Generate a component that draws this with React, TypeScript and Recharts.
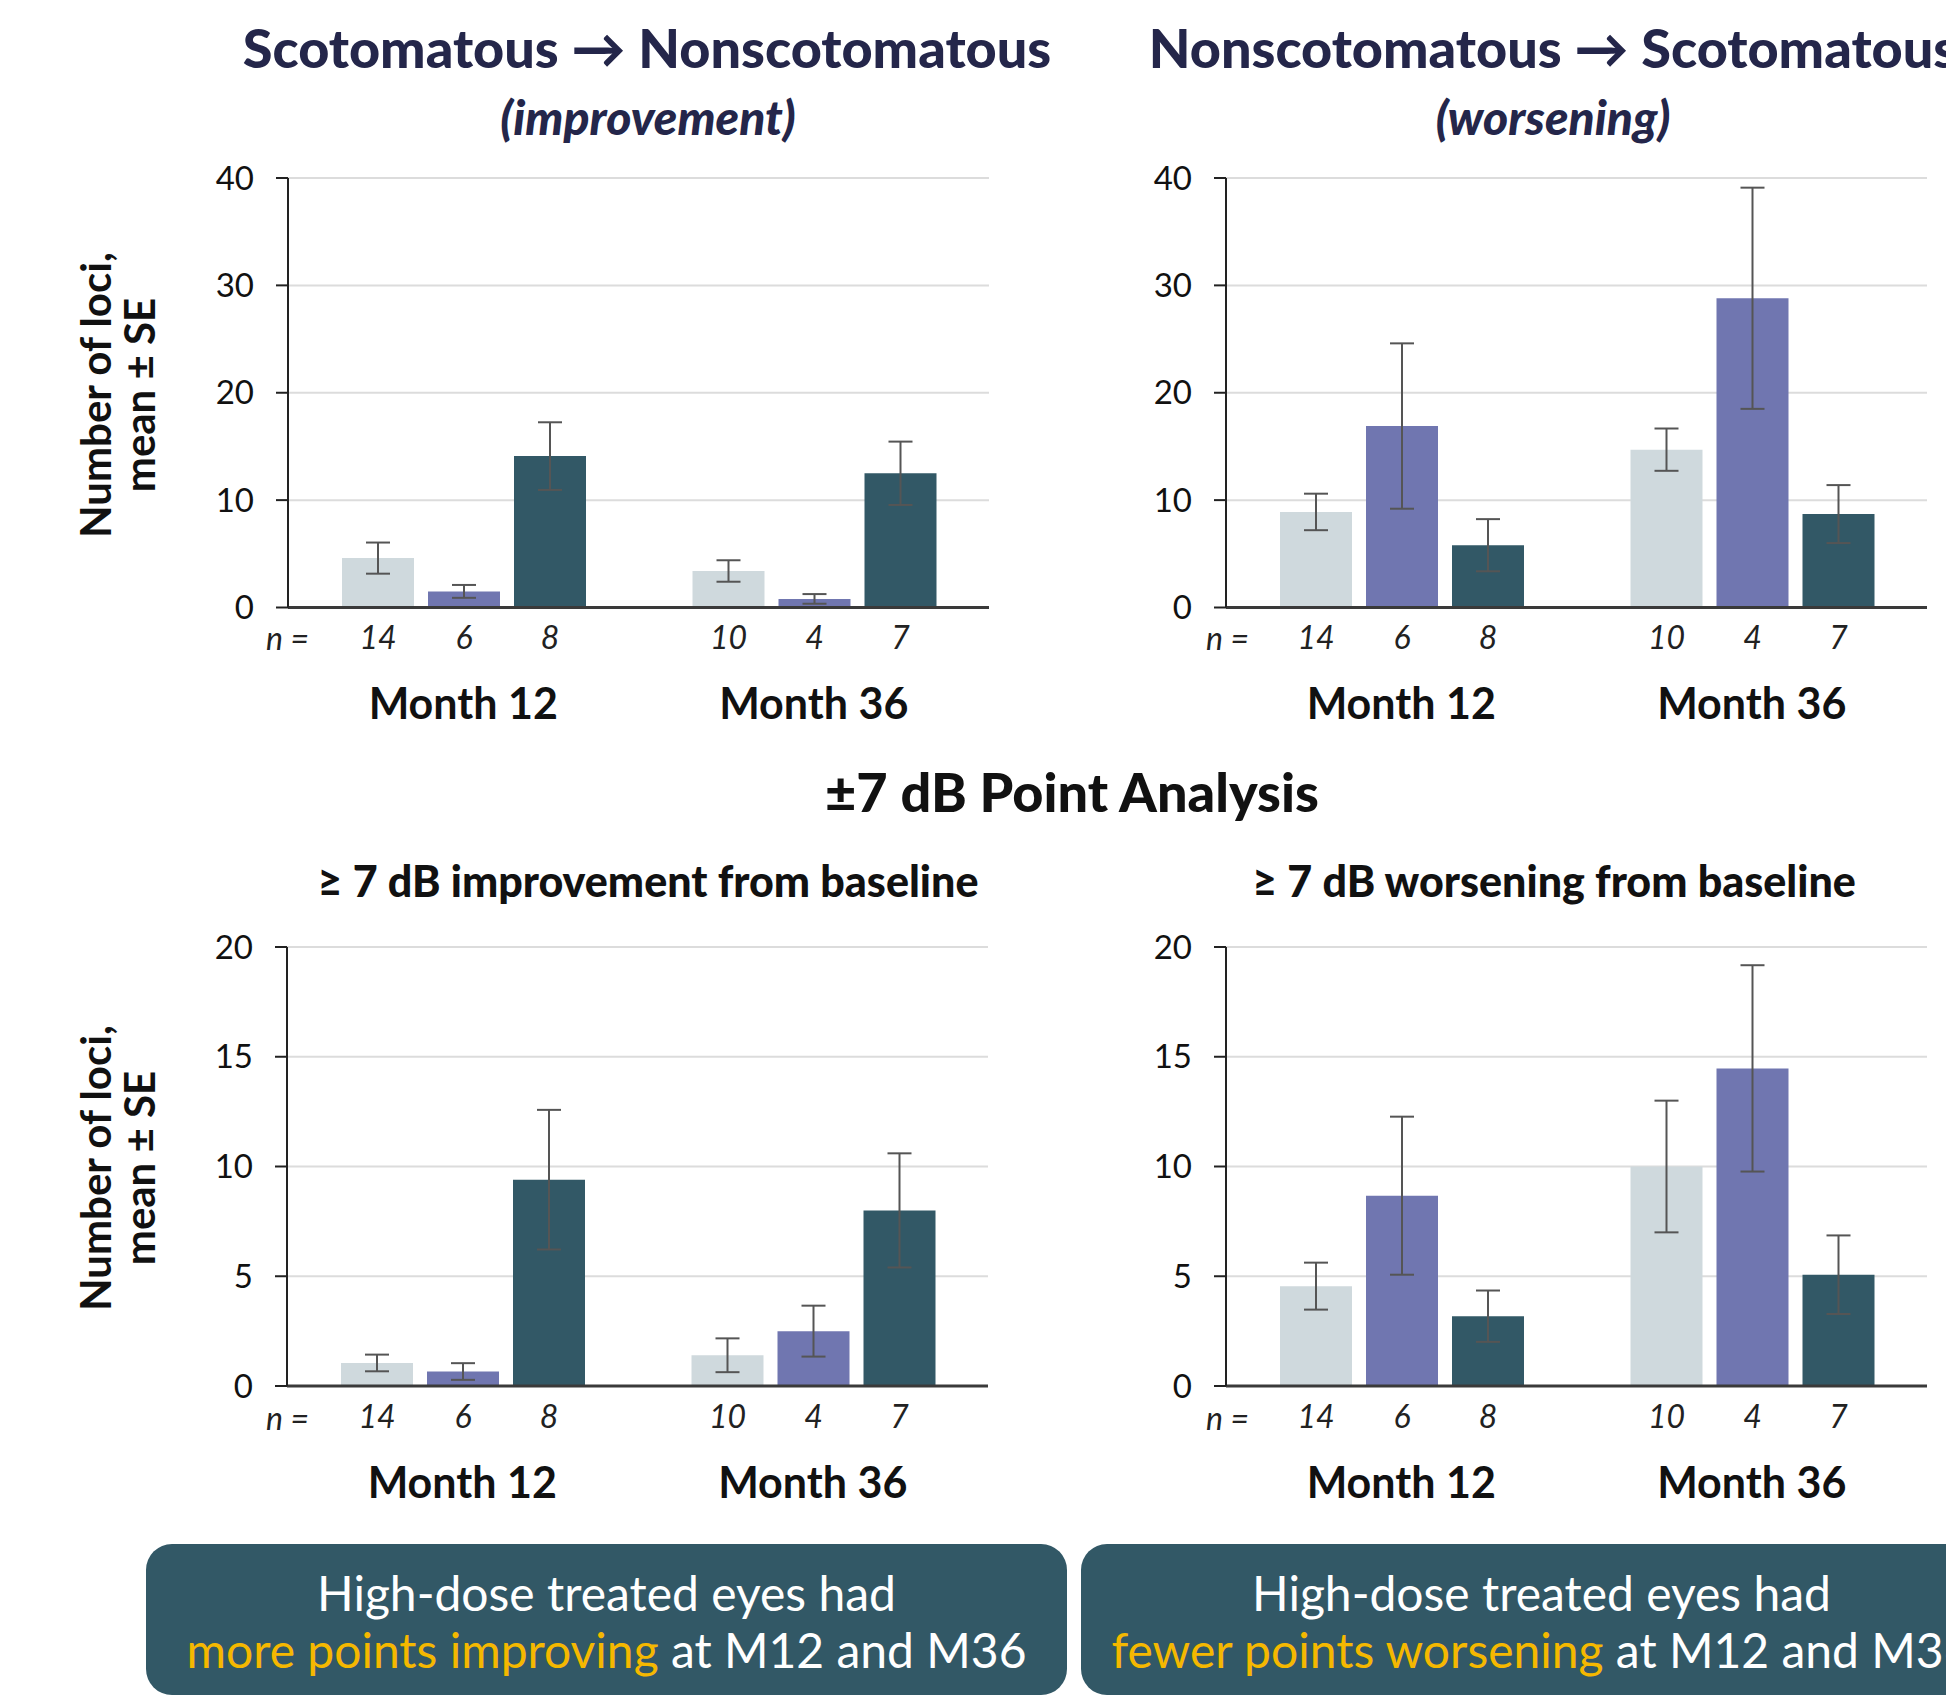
import {Bar, BarChart, CartesianGrid, ErrorBar, LabelList, XAxis, YAxis} from "recharts"

const months = ["Month 12", "Month 36"]

// n per group (same in every panel)
const nUntreated = [14, 10]
const nLow = [6, 4]
const nHigh = [8, 7]

// Scotomatous -> Nonscotomatous (improvement)
const scotUntreated = [4.6, 3.4]
const scotUntreatedSE = [1.45, 1.0]
const scotLow = [1.5, 0.8]
const scotLowSE = [0.6, 0.45]
const scotHigh = [14.1, 12.5]
const scotHighSE = [3.15, 2.95]

// Nonscotomatous -> Scotomatous (worsening)
const nonUntreated = [8.9, 14.7]
const nonUntreatedSE = [1.7, 1.97]
const nonLow = [16.9, 28.8]
const nonLowSE = [7.7, 10.3]
const nonHigh = [5.8, 8.7]
const nonHighSE = [2.43, 2.7]

// >= 7 dB improvement from baseline
const impUntreated = [1.05, 1.4]
const impUntreatedSE = [0.38, 0.77]
const impLow = [0.66, 2.5]
const impLowSE = [0.38, 1.16]
const impHigh = [9.4, 8.0]
const impHighSE = [3.18, 2.6]

// >= 7 dB worsening from baseline
const worUntreated = [4.55, 10.0]
const worUntreatedSE = [1.07, 3.0]
const worLow = [8.67, 14.47]
const worLowSE = [3.6, 4.7]
const worHigh = [3.18, 5.07]
const worHighSE = [1.17, 1.79]

const ticks40 = [0, 10, 20, 30, 40]
const ticks20 = [0, 5, 10, 15, 20]

const LIGHT = "#cfd9dd"
const PURPLE = "#7076b0"
const DARK = "#325866"
const NAVY = "#24264a"
const FONT = "Lato, 'Open Sans', sans-serif"

function build(u: number[], uSE: number[], l: number[], lSE: number[], h: number[], hSE: number[]) {
    return months.map((m, i) => ({
        month: m,
        untreated: u[i], untreatedSE: uSE[i], nUntreated: nUntreated[i],
        low: l[i], lowSE: lSE[i], nLow: nLow[i],
        high: h[i], highSE: hSE[i], nHigh: nHigh[i],
    }))
}

function MonthTick(props: any) {
    const {x, y, payload} = props
    return (
        <text x={x} y={y + 95} textAnchor="middle" dominantBaseline="central"
              fontFamily={FONT} fontWeight={700} fontSize={43} fill="#111">
            {payload.value}
        </text>
    )
}

function Panel({left, top, plotH, data, ticks, max}: any) {
    const padL = 140, padT = 30, padR = 20, axisH = 130, plotW = 701
    const series = [
        {key: "untreated", fill: LIGHT},
        {key: "low", fill: PURPLE},
        {key: "high", fill: DARK},
    ]
    const nKeys: any = {untreated: "nUntreated", low: "nLow", high: "nHigh"}
    return (
        <div style={{position: "absolute", left: left - padL, top: top - padT}}>
            <BarChart width={plotW + padL + padR} height={plotH + padT + axisH} data={data}
                      margin={{top: padT, right: padR, left: 0, bottom: 0}}
                      barGap={14} barCategoryGap={54}>
                <CartesianGrid vertical={false} stroke="#dcdcdc" strokeWidth={2}/>
                <XAxis dataKey="month" height={axisH} interval={0} tickLine={false} tickSize={0} tickMargin={0}
                       axisLine={{stroke: "#3a3a3a", strokeWidth: 3}} tick={<MonthTick/>}/>
                <YAxis width={padL} domain={[0, max]} ticks={ticks} interval={0} tickSize={12} tickMargin={22}
                       axisLine={{stroke: "#222", strokeWidth: 2}} tickLine={{stroke: "#222", strokeWidth: 2}}
                       tick={{fill: "#111", fontSize: 33, fontFamily: FONT}}/>
                {series.map(s => (
                    <Bar key={s.key} dataKey={s.key} fill={s.fill} isAnimationActive={false}>
                        <ErrorBar dataKey={s.key + "SE"} width={12} stroke="#555" strokeWidth={2}/>
                        <LabelList dataKey={nKeys[s.key]} position="bottom" offset={19} fill="#222"
                                   fontSize={32} fontStyle="italic" fontFamily={FONT}/>
                    </Bar>
                ))}
            </BarChart>
        </div>
    )
}

const abs = (x: number, y: number, w: number, extra: any = {}) => ({
    position: "absolute" as const, left: x - w / 2, top: y, width: w, textAlign: "center" as const,
    whiteSpace: "nowrap" as const, fontFamily: FONT, ...extra,
})

function YTitle({cy}: { cy: number }) {
    return (
        <div style={{
            position: "absolute", left: 117 - 200, top: cy - 44, width: 400, height: 88,
            transform: "rotate(-90deg)", textAlign: "center", fontFamily: FONT, fontWeight: 700,
            fontSize: 42, lineHeight: "44px", color: "#111",
        }}>
            Number of loci,<br/>mean ± SE
        </div>
    )
}

function NLabel({x, y}: { x: number, y: number }) {
    return <div style={{position: "absolute", left: x, top: y - 20, fontFamily: FONT, fontStyle: "italic",
        fontSize: 32, lineHeight: "40px", color: "#222"}}>n =</div>
}

function Box({left, title, hi, rest}: any) {
    return (
        <div style={{
            position: "absolute", left, top: 1544, width: 921, height: 151, background: DARK,
            borderRadius: 26, color: "#fff", fontFamily: FONT, fontWeight: 400, fontSize: 48,
            textAlign: "center", whiteSpace: "nowrap", lineHeight: "57px", paddingTop: 20, boxSizing: "border-box",
        }}>
            {title}<br/><span style={{color: "#f5b800"}}>{hi}</span> {rest}
        </div>
    )
}

export default function App() {
    return (
        <div style={{position: "absolute", left: 0, top: 0, width: 1946, height: 1701, overflow: "hidden", background: "#fff"}}>
            <div style={abs(647, 12, 1100, {fontWeight: 900, fontSize: 54, color: NAVY, lineHeight: "72px"})}>
                Scotomatous → Nonscotomatous
            </div>
            <div style={abs(648, 87, 600, {fontWeight: 900, fontStyle: "italic", fontSize: 48, color: NAVY, lineHeight: "60px"})}>
                (improvement)
            </div>
            <div style={abs(1553, 12, 1100, {fontWeight: 900, fontSize: 54, color: NAVY, lineHeight: "72px"})}>
                Nonscotomatous → Scotomatous
            </div>
            <div style={abs(1553, 87, 600, {fontWeight: 900, fontStyle: "italic", fontSize: 48, color: NAVY, lineHeight: "60px"})}>
                (worsening)
            </div>

            <YTitle cy={395}/>
            <YTitle cy={1168}/>

            <Panel left={288} top={177.5} plotH={429.5} max={40} ticks={ticks40}
                   data={build(scotUntreated, scotUntreatedSE, scotLow, scotLowSE, scotHigh, scotHighSE)}/>
            <Panel left={1226} top={177.5} plotH={429.5} max={40} ticks={ticks40}
                   data={build(nonUntreated, nonUntreatedSE, nonLow, nonLowSE, nonHigh, nonHighSE)}/>
            <Panel left={287} top={947} plotH={439} max={20} ticks={ticks20}
                   data={build(impUntreated, impUntreatedSE, impLow, impLowSE, impHigh, impHighSE)}/>
            <Panel left={1226} top={947} plotH={439} max={20} ticks={ticks20}
                   data={build(worUntreated, worUntreatedSE, worLow, worLowSE, worHigh, worHighSE)}/>

            <NLabel x={266} y={638}/>
            <NLabel x={1206} y={638}/>
            <NLabel x={266} y={1418}/>
            <NLabel x={1206} y={1418}/>

            <div style={abs(1072, 758, 1000, {fontWeight: 900, fontSize: 54, color: "#111", lineHeight: "68px"})}>
                ±7 dB Point Analysis
            </div>
            <div style={abs(648, 855, 900, {fontWeight: 900, fontSize: 43, color: "#111", lineHeight: "52px"})}>
                ≥ 7 dB improvement from baseline
            </div>
            <div style={abs(1554, 855, 900, {fontWeight: 900, fontSize: 43, color: "#111", lineHeight: "52px"})}>
                ≥ 7 dB worsening from baseline
            </div>

            <Box left={146} title="High-dose treated eyes had" hi="more points improving" rest="at M12 and M36"/>
            <Box left={1081} title="High-dose treated eyes had" hi="fewer points worsening" rest="at M12 and M36"/>
        </div>
    )
}
